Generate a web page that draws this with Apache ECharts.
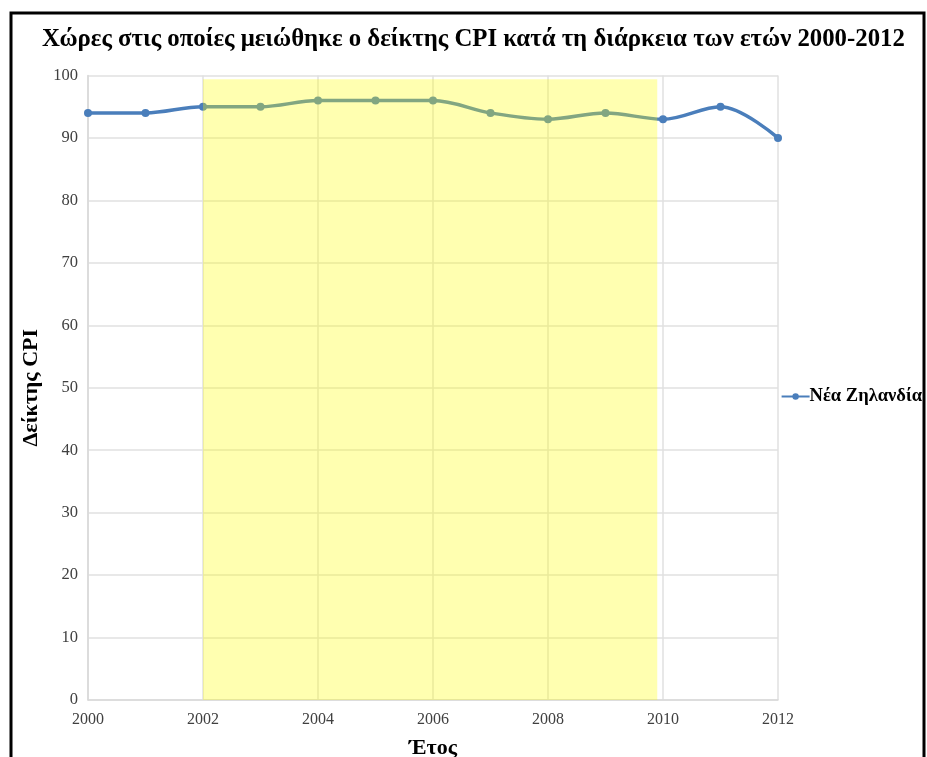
<!DOCTYPE html>
<html>
<head>
<meta charset="utf-8">
<script src="https://cdn.jsdelivr.net/npm/echarts@6/dist/echarts.min.js"></script>
<style>
  html, body { margin: 0; padding: 0; background: #fff; }
  #chart { width: 927px; height: 757px; }
</style>
</head>
<body>
<div id="chart"></div>
<script>
const years = [2000, 2001, 2002, 2003, 2004, 2005, 2006, 2007, 2008, 2009, 2010, 2011, 2012];
const nzValues = [94, 94, 95, 95, 96, 96, 96, 94, 93, 94, 93, 95, 90];
const seriesName = 'Νέα Ζηλανδία';
const highlightRange = [2002, 2009.9];

const chart = echarts.init(document.getElementById('chart'));
const serif = '"Liberation Serif", "Times New Roman", serif';

const option = {
    backgroundColor: '#fff',
    animation: false,
    title: {
        text: 'Χώρες στις οποίες μειώθηκε ο δείκτης CPI κατά τη διάρκεια των ετών 2000-2012',
        left: 37,
        top: 22,
        textStyle: { fontFamily: serif, fontWeight: 'bold', fontSize: 24.8, color: '#000' }
    },
    graphic: [{
        type: 'rect',
        shape: { x: 11, y: 13, width: 913, height: 800 },
        style: { fill: 'none', stroke: '#000', lineWidth: 3 },
        silent: true
    }],
    legend: {
        right: 0,
        top: 382,
        orient: 'vertical',
        itemWidth: 28,
        itemHeight: 8,
        itemGap: 4,
        textStyle: { fontFamily: serif, fontWeight: 'bold', fontSize: 18.5, color: '#000', padding: [0, 0, 0, -5] },
        data: [seriesName]
    },
    grid: { left: 88, right: 149, top: 75.5, bottom: 57, containLabel: false, outerBoundsMode: 'none' },
    xAxis: {
        type: 'value',
        min: 2000,
        max: 2012,
        interval: 2,
        name: 'Έτος',
        nameLocation: 'middle',
        nameGap: 37,
        nameTextStyle: { fontFamily: serif, fontWeight: 'bold', fontSize: 22, color: '#000' },
        axisLine: { lineStyle: { color: '#d9d9d9', width: 1.5 } },
        axisTick: { show: false },
        axisLabel: { fontFamily: serif, fontSize: 16, color: '#404040', margin: 12, formatter: v => String(v) },
        splitLine: { show: true, lineStyle: { color: '#e0e0e0', width: 1.5 } }
    },
    yAxis: {
        type: 'value',
        min: 0,
        max: 100,
        interval: 10,
        name: 'Δείκτης CPI',
        nameLocation: 'middle',
        nameGap: 39,
        nameTextStyle: { fontFamily: serif, fontWeight: 'bold', fontSize: 22, color: '#000' },
        axisLine: { show: true, lineStyle: { color: '#d9d9d9', width: 1.5 } },
        axisTick: { show: false },
        axisLabel: { fontFamily: serif, fontSize: 16.5, color: '#404040', margin: 10 },
        splitLine: { lineStyle: { color: '#e0e0e0', width: 1.5 } }
    },
    series: [
        {
            name: seriesName,
            type: 'line',
            smooth: 0.35,
            z: 2,
            data: years.map((y, i) => [y, nzValues[i]]),
            symbol: 'circle',
            symbolSize: 8,
            lineStyle: { color: '#4a7ebb', width: 3.5 },
            itemStyle: { color: '#4a7ebb' }
        },
        {
            name: 'highlight',
            type: 'line',
            data: [],
            z: 10,
            silent: true,
            markArea: {
                silent: true,
                z: 10,
                itemStyle: { color: 'rgba(255, 255, 0, 0.31)' },
                data: [[
                    { xAxis: highlightRange[0], yAxis: 0 },
                    { xAxis: highlightRange[1], yAxis: 99.4 }
                ]]
            }
        }
    ]
};

chart.setOption(option);
window.addEventListener('resize', function () {
    chart.resize();
});
</script>
</body>
</html>
